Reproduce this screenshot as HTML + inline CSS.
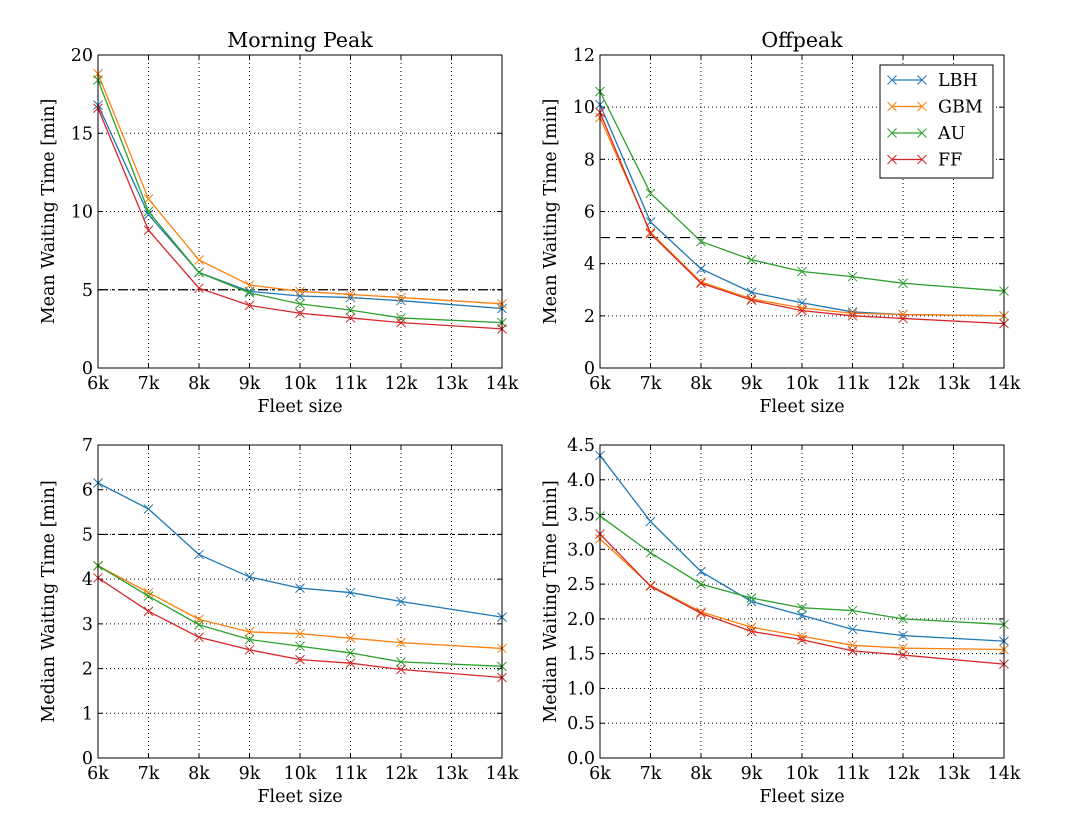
<!DOCTYPE html>
<html><head><meta charset="utf-8"><style>
body{margin:0;background:#fff;width:1078px;height:830px;overflow:hidden}
svg text{font-family:"DejaVu Serif","Liberation Serif",serif;fill:#000}
</style></head><body>
<svg id="fig" width="1078" height="830" xmlns="http://www.w3.org/2000/svg"></svg>
<script>
const fleet=[6,7,8,9,10,11,12,14];
const xTicks=[6,7,8,9,10,11,12,13,14];
const seriesNames=["LBH","GBM","AU","FF"];
const colors=["#1f77b4","#ff7f0e","#2ca02c","#d62728"];
const mpMeanLBH=[16.8,9.8,6.1,4.9,4.6,4.5,4.3,3.8];
const mpMeanGBM=[18.8,10.8,6.9,5.3,4.9,4.7,4.5,4.1];
const mpMeanAU=[18.4,10.0,6.1,4.8,4.1,3.7,3.2,2.9];
const mpMeanFF=[16.6,8.8,5.1,4.0,3.5,3.2,2.9,2.5];
const opMeanLBH=[10.1,5.6,3.8,2.9,2.5,2.15,2.05,2.0];
const opMeanGBM=[9.6,5.2,3.3,2.65,2.3,2.1,2.05,2.0];
const opMeanAU=[10.6,6.7,4.85,4.15,3.7,3.5,3.25,2.95];
const opMeanFF=[9.8,5.15,3.25,2.6,2.2,2.0,1.9,1.7];
const mpMedLBH=[6.15,5.57,4.55,4.05,3.8,3.7,3.5,3.15];
const mpMedGBM=[4.3,3.7,3.1,2.82,2.78,2.68,2.58,2.45];
const mpMedAU=[4.3,3.62,2.98,2.65,2.5,2.35,2.15,2.05];
const mpMedFF=[4.03,3.28,2.7,2.42,2.2,2.12,1.98,1.8];
const opMedLBH=[4.35,3.4,2.68,2.25,2.05,1.85,1.76,1.68];
const opMedGBM=[3.15,2.48,2.1,1.88,1.75,1.62,1.58,1.56];
const opMedAU=[3.48,2.95,2.5,2.3,2.16,2.12,2.0,1.92];
const opMedFF=[3.22,2.47,2.08,1.82,1.7,1.54,1.48,1.35];
const yTicksA=[0,5,10,15,20];
const yTicksB=[0,2,4,6,8,10,12];
const yTicksC=[0,1,2,3,4,5,6,7];
const yTicksD=[0,0.5,1.0,1.5,2.0,2.5,3.0,3.5,4.0,4.5];

const NS="http://www.w3.org/2000/svg";
const fig=document.getElementById('fig');
function mk(tag,attrs,parent){const e=document.createElementNS(NS,tag);for(const k in attrs)e.setAttribute(k,attrs[k]);(parent||fig).appendChild(e);return e;}

const panels=[
 {name:"morning-peak-mean",x0:98,x1:502,y0:55,y1:368,ymax:20,ticks:yTicksA,fmt:v=>String(v),title:"Morning Peak",ylabel:"Mean Waiting Time [min]",data:[mpMeanLBH,mpMeanGBM,mpMeanAU,mpMeanFF],h:5,dash:"10,4,2,4",legend:false},
 {name:"offpeak-mean",x0:600,x1:1004,y0:55,y1:368,ymax:12,ticks:yTicksB,fmt:v=>String(v),title:"Offpeak",ylabel:"Mean Waiting Time [min]",data:[opMeanLBH,opMeanGBM,opMeanAU,opMeanFF],h:5,dash:"10,6",legend:true},
 {name:"morning-peak-median",x0:98,x1:502,y0:445,y1:758,ymax:7,ticks:yTicksC,fmt:v=>String(v),title:"",ylabel:"Median Waiting Time [min]",data:[mpMedLBH,mpMedGBM,mpMedAU,mpMedFF],h:5,dash:"10,4,2,4",legend:false},
 {name:"offpeak-median",x0:600,x1:1004,y0:445,y1:758,ymax:4.5,ticks:yTicksD,fmt:v=>v.toFixed(1),title:"",ylabel:"Median Waiting Time [min]",data:[opMedLBH,opMedGBM,opMedAU,opMedFF],h:null,legend:false}
];

panels.forEach(p=>{
 const g=mk('g',{});
 
 
 const sx=v=>p.x0+(v-6)/(14-6)*(p.x1-p.x0);
 const sy=v=>p.y1-v/p.ymax*(p.y1-p.y0);
 xTicks.forEach(t=>{
  const l=mk('line',{x1:sx(t),x2:sx(t),y1:p.y0,y2:p.y1,stroke:"#000","stroke-width":1,"stroke-dasharray":"1,3"},g);
  
  
  mk('line',{x1:sx(t),x2:sx(t),y1:p.y1,y2:p.y1-5,stroke:"#000"},g);
  mk('line',{x1:sx(t),x2:sx(t),y1:p.y0,y2:p.y0+5,stroke:"#000"},g);
  const tx=mk('text',{x:sx(t),y:p.y1+21,"text-anchor":"middle","font-size":17.5},g);
  tx.textContent=t+"k";
  
  
 });
 p.ticks.forEach(t=>{
  const l=mk('line',{x1:p.x0,x2:p.x1,y1:sy(t),y2:sy(t),stroke:"#000","stroke-width":1,"stroke-dasharray":"1,3"},g);
  
  
  mk('line',{x1:p.x0,x2:p.x0+5,y1:sy(t),y2:sy(t),stroke:"#000"},g);
  mk('line',{x1:p.x1,x2:p.x1-5,y1:sy(t),y2:sy(t),stroke:"#000"},g);
  const tx=mk('text',{x:p.x0-5,y:sy(t)+6,"text-anchor":"end","font-size":17.5},g);
  tx.textContent=p.fmt(t);
  
  
 });
 if(p.h!==null){
  const l=mk('line',{x1:p.x0,x2:p.x1,y1:sy(p.h),y2:sy(p.h),stroke:"#000","stroke-width":1.2,"stroke-dasharray":p.dash},g);
  
  
 }
 p.data.forEach((arr,i)=>{
  const pts=arr.map((v,j)=>sx(fleet[j])+","+sy(v)).join(" ");
  const pl=mk('polyline',{points:pts,fill:"none",stroke:colors[i],"stroke-width":1.3},g);
  
  
  arr.forEach((v,j)=>{
   const cx=sx(fleet[j]),cy=sy(v),r=4.5;
   const m=mk('path',{d:`M${cx-r},${cy-r}L${cx+r},${cy+r}M${cx-r},${cy+r}L${cx+r},${cy-r}`,stroke:colors[i],"stroke-width":1,fill:"none"},g);
   
   
  });
 });
 const fr=mk('rect',{x:p.x0,y:p.y0,width:p.x1-p.x0,height:p.y1-p.y0,fill:"none",stroke:"#000","stroke-width":1},g);
 
 
 if(p.title){
  const t=mk('text',{x:(p.x0+p.x1)/2,y:p.y0-8,"text-anchor":"middle","font-size":20.5},g);
  t.textContent=p.title;
  
  
 }
 const xl=mk('text',{x:(p.x0+p.x1)/2,y:p.y1+44,"text-anchor":"middle","font-size":17.5},g);
 xl.textContent="Fleet size";
 
 
 const cy=(p.y0+p.y1)/2, lx=p.x0-44;
 const yl=mk('text',{x:lx,y:cy,"text-anchor":"middle","font-size":17.5,transform:`rotate(-90 ${lx} ${cy})`},g);
 yl.textContent=p.ylabel;
 
 
 if(p.legend){
  const lg=mk('g',{},g);
  
  
  mk('rect',{x:880,y:65,width:113,height:113,fill:"#fff",stroke:"#000","stroke-width":1},lg);
  seriesNames.forEach((n,i)=>{
   const y=80+i*26.5;
   const e=mk('g',{},lg);
   
   
   mk('line',{x1:892,x2:922,y1:y,y2:y,stroke:colors[i],"stroke-width":1.3},e);
   [892,922].forEach(cx=>mk('path',{d:`M${cx-4.5},${y-4.5}L${cx+4.5},${y+4.5}M${cx-4.5},${y+4.5}L${cx+4.5},${y-4.5}`,stroke:colors[i],"stroke-width":1},e));
   const t=mk('text',{x:938,y:y+6,"font-size":17.5},e);
   t.textContent=n;
  });
 }
});
</script>
</body></html>
